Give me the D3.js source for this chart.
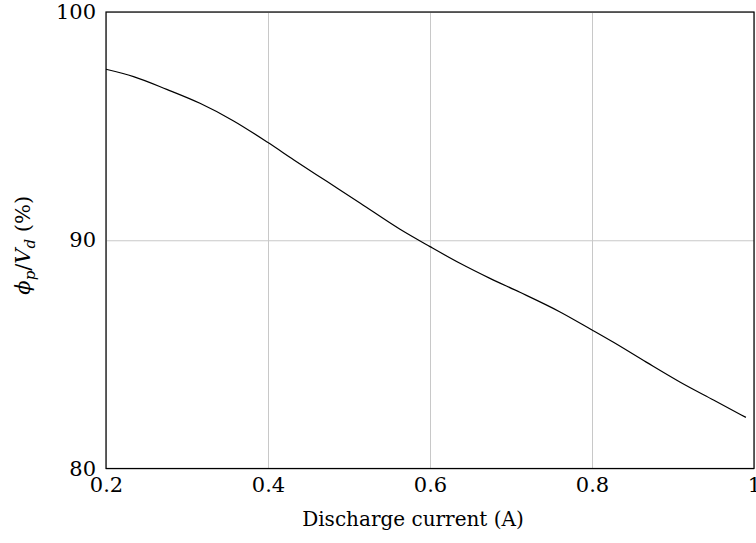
<!DOCTYPE html>
<html>
<head>
<meta charset="utf-8">
<script src="https://cdn.jsdelivr.net/npm/d3@7"></script>
<style>
  body { margin: 0; background: #fff; }
  svg text { font-family: "DejaVu Serif", "Liberation Serif", serif; }
</style>
</head>
<body>
<div id="chart"></div>
<script>
// discharge current (A) and phi_p / V_d (%)
const current = [0.2, 0.234, 0.275, 0.316, 0.357, 0.4, 0.432, 0.473, 0.514, 0.563,
  0.6, 0.637, 0.674, 0.711, 0.76, 0.8, 0.826, 0.867, 0.909, 0.95, 0.99];
const ratio = [97.49, 97.17, 96.61, 96.0, 95.24, 94.28, 93.52, 92.57, 91.62, 90.48,
  89.72, 88.99, 88.33, 87.72, 86.87, 86.07, 85.54, 84.66, 83.78, 83.0, 82.24];
const xTicks = [0.2, 0.4, 0.6, 0.8, 1];
const yTicks = [80, 90, 100];

const W = 756, H = 543;
const margin = { top: 12, right: 2, bottom: 74.5, left: 106 };
const width = W - margin.left - margin.right;
const height = H - margin.top - margin.bottom;

const data = current.map((c, i) => ({ x: c, y: ratio[i] }));

const xScale = d3.scaleLinear().domain([0.2, 1]).range([0, width]);
const yScale = d3.scaleLinear().domain([80, 100]).range([height, 0]);

const svg = d3
  .select("#chart")
  .append("svg")
  .attr("width", W)
  .attr("height", H)
  .append("g")
  .attr("transform", "translate(" + margin.left + "," + margin.top + ")");

// grid lines
svg
  .append("g")
  .attr("class", "xgrid")
  .attr("transform", "translate(0," + height + ")")
  .call(d3.axisBottom(xScale).tickValues(xTicks).tickSize(-height).tickFormat(""))
  .call((g) => g.select(".domain").remove())
  .selectAll("line")
  .attr("stroke", "#c8c8c8")
  .attr("stroke-width", 1);

svg
  .append("g")
  .attr("class", "ygrid")
  .call(d3.axisLeft(yScale).tickValues(yTicks).tickSize(-width).tickFormat(""))
  .call((g) => g.select(".domain").remove())
  .selectAll("line")
  .attr("stroke", "#c8c8c8")
  .attr("stroke-width", 1);

// tick labels
const xAxis = svg
  .append("g")
  .attr("transform", "translate(0," + height + ")")
  .call(
    d3.axisBottom(xScale).tickValues(xTicks).tickSize(0).tickPadding(9)
      .tickFormat((d) => (d === 1 ? "1" : d3.format(".1f")(d)))
  );
xAxis.select(".domain").remove();
xAxis.selectAll("text").attr("font-size", 21).attr("fill", "#000");

const yAxis = svg
  .append("g")
  .call(d3.axisLeft(yScale).tickValues(yTicks).tickSize(0).tickPadding(10));
yAxis.select(".domain").remove();
yAxis.selectAll("text").attr("font-size", 21).attr("fill", "#000");

// the curve
svg
  .append("path")
  .datum(data)
  .attr("fill", "none")
  .attr("stroke", "#000")
  .attr("stroke-width", 1.2)
  .attr(
    "d",
    d3.line()
      .x((d) => xScale(d.x))
      .y((d) => yScale(d.y))
      .curve(d3.curveMonotoneX)
  );

// frame
svg
  .append("rect")
  .attr("x", 0)
  .attr("y", 0)
  .attr("width", width)
  .attr("height", height)
  .attr("fill", "none")
  .attr("stroke", "#000")
  .attr("stroke-width", 1.2);

// axis titles
svg
  .append("text")
  .attr("x", width / 2 - 17)
  .attr("y", height + 57)
  .attr("text-anchor", "middle")
  .attr("font-size", 20)
  .text("Discharge current (A)");

const yLabel = svg
  .append("text")
  .attr("transform", "translate(" + (-76) + "," + (height / 2 + 5) + ") rotate(-90)")
  .attr("text-anchor", "middle")
  .attr("font-size", 21);
yLabel.append("tspan").attr("font-style", "italic").text("ϕ");
yLabel.append("tspan").attr("font-style", "italic").attr("font-size", 15)
  .attr("dy", 5).text("p");
yLabel.append("tspan").attr("dy", -5).text("/");
yLabel.append("tspan").attr("font-style", "italic").text("V");
yLabel.append("tspan").attr("font-style", "italic").attr("font-size", 15)
  .attr("dy", 5).text("d");
yLabel.append("tspan").attr("dy", -5).text(" (%)");
</script>
</body>
</html>
